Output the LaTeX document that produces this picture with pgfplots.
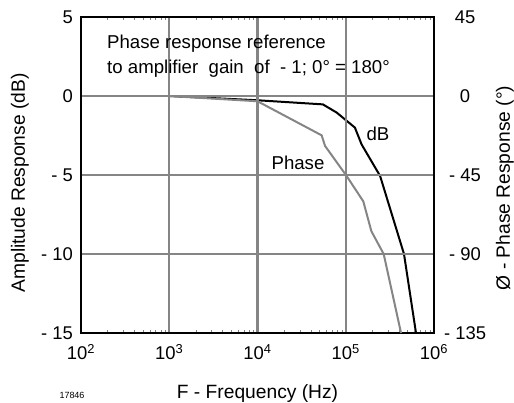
\documentclass[border=0pt]{standalone}
\usepackage{fontspec}
\setmainfont{Liberation Sans}
\usepackage{pgfplots}
\pgfplotsset{compat=1.18}

% amplitude (dB) against frequency
\pgfplotstableread{
f       db
1e3     0
1e4     -0.27
5.5e4   -0.53
7.9e4   -1.05
1.27e5  -2.0
1.51e5  -3.06
2.45e5  -5.06
4.57e5  -10
6.25e5  -15
}\ampdata

% phase (deg) against frequency
\pgfplotstableread{
f       ph
1e3     0
1e4     -3
5.33e4  -22.4
5.82e4  -28.4
1.02e5  -45.5
1.58e5  -60
1.95e5  -77
2.69e5  -90
4.23e5  -135
}\phasedata

\begin{document}
\begin{tikzpicture}[x=1bp,y=1bp]
\useasboundingbox (0,0) rectangle (514,402);
\pgfplotsset{
  every axis/.append style={
    at={(81bp,69bp)}, anchor=south west,
    scale only axis, width=353bp, height=316bp,
    xmode=log, xmin=1e2, xmax=1e6,
    major tick length=0pt,
    tick label style={font=\fontsize{18.5}{21}\selectfont, inner sep=0pt},
    label style={font=\fontsize{19.3}{22}\selectfont},
  },
}
\begin{axis}[
  ymin=-15, ymax=5,
  xtick={1e2,1e3,1e4,1e5,1e6},
  xticklabels={10\textsuperscript{2},10\textsuperscript{3},10\textsuperscript{4},10\textsuperscript{5},10\textsuperscript{6}},
  xticklabel style={anchor=north, yshift=-11bp},
  ytick={-15,-10,-5,0,5},
  yticklabels={- 15,- 10,- 5,0,5},
  yticklabel style={anchor=east, xshift=-8bp},
  grid=major,
  major grid style={color=black!48, line width=2.4bp},
  axis line style={line width=2.4bp},
  axis on top,
  xlabel={F - Frequency (Hz)},
  xlabel style={at={(axis description cs:0.5,-0.19)}, anchor=center},
  ylabel={Amplitude Response (dB)},
  ylabel style={at={(axis description cs:-0.173,0.475)}, anchor=center},
]
\addplot[black, line width=2bp] table[x=f, y=db] {\ampdata};
\end{axis}

\begin{axis}[
  ymin=-135, ymax=45,
  axis x line=none,
  axis y line*=right,
  axis line style={line width=2.4bp},
  ytick={-135,-90,-45,0,45},
  yticklabels={- 135,- 90,- 45,0,45},
  yticklabel style={anchor=center, xshift=31bp},
  ylabel={Ø - Phase Response (°)},
  ylabel style={at={(axis description cs:1.201,0.459)}, anchor=center},
]
\addplot[black!48, line width=2bp] table[x=f, y=ph] {\phasedata};
\end{axis}

\begin{scope}[font=\fontsize{18.7}{21}\selectfont]
\node[anchor=base west, inner sep=0pt] at (107,354) {Phase response reference};
\node[anchor=base west, inner sep=0pt] at (107,329) {to amplifier\ \ gain\ \ of\ \ - 1; 0° = 180°};
\node[inner sep=0pt] at (378,268) {dB};
\node[inner sep=0pt] at (298,239) {Phase};
\end{scope}
\node[inner sep=0pt, font=\fontsize{9}{10}\selectfont] at (72,7) {17846};
\end{tikzpicture}
\end{document}
